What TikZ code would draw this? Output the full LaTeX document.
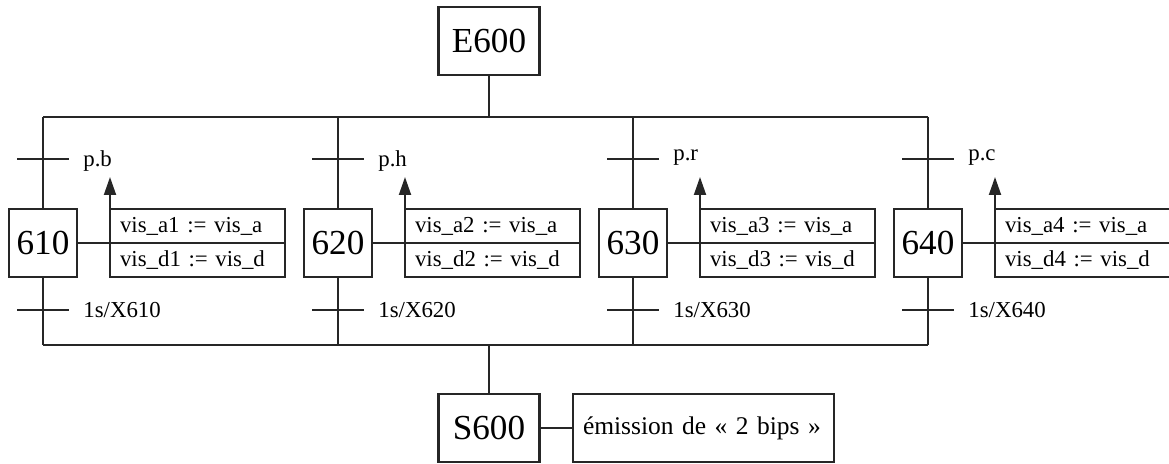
\documentclass[tikz,border=0pt]{standalone}
\usepackage{fontspec}
\setmainfont{Liberation Serif}
\usetikzlibrary{arrows.meta,calc}
\tikzset{
    trait/.style={line width=1.1pt, draw=black!85},
    etape/.style={draw=black!85, line width=1.4pt, minimum height=1.36cm,
                  minimum width=1.36cm, inner sep=0pt, outer sep=0pt,
                  font=\fontsize{20}{24}\selectfont},
    action/.style={draw=black!85, line width=1.4pt, minimum height=0.68cm,
                   text width=3.1cm, inner xsep=0.2cm, inner ysep=0pt,
                   outer sep=0pt, align=left,
                   font=\fontsize{13}{15}\selectfont},
    signal/.style={trait, -{Triangle[length=0.36cm, width=0.24cm]}},
    recept/.style={font=\fontsize{13}{15}\selectfont, anchor=base west,
                   inner sep=0pt},
}

\begin{document}
\begin{tikzpicture}
    \path[use as bounding box] (0,0) rectangle (23.38,9.26);

    % etapes initiale et finale
    \node[etape, minimum width=2.02cm] (E600) at (9.78,8.44) {E600};
    \node[etape, minimum width=2.02cm] (S600) at (9.78,0.70) {S600};
    \node[action, text width=4.82cm, minimum height=1.36cm, anchor=west,
          font=\fontsize{14.5}{17}\selectfont]
        (bips) at (11.46,0.70) {émission de «~2 bips~»};
    \draw[trait] (S600.east) -- (bips.west);

    % branches paralleles
    \foreach \i/\x/\r/\ry in {1/0.86/p.b/5.92, 2/6.76/p.h/5.92,
                              3/12.66/p.r/6.04, 4/18.56/p.c/6.04} {
        \coordinate (haut\i) at (\x,6.92);
        \coordinate (bas\i) at (\x,2.36);
        \node[etape] (etape\i) at (\x,4.40) {6\i0};
        \node[action, anchor=south west] (actA\i) at (\x+1.34,4.40)
            {vis\_a\i{} := vis\_a};
        \node[action, anchor=north west] (actD\i) at (\x+1.34,4.40)
            {vis\_d\i{} := vis\_d};
        \coordinate (pointe\i) at (\x+1.34,5.72);
        \draw[trait] (haut\i) -- (etape\i.north);
        \draw[trait] (etape\i.south) -- (bas\i);
        \draw[trait] (etape\i.east) -- (actA\i.south west);
        \draw[signal] (actA\i.north west) -- (pointe\i);
        % transitions
        \draw[trait] (\x-0.52,6.08) -- (\x+0.52,6.08);
        \draw[trait] (\x-0.52,3.06) -- (\x+0.52,3.06);
        \node[recept] (cond\i) at (\x+0.80,\ry) {\r};
        \node[recept] (tempo\i) at (\x+0.80,2.92) {1s/X6\i0};
    }

    \draw[trait] (haut1) -- (haut4);
    \draw[trait] (bas1) -- (bas4);
    \draw[trait] (E600.south) -- (E600.south |- haut1);
    \draw[trait] (S600.north |- bas1) -- (S600.north);
\end{tikzpicture}
\end{document}
